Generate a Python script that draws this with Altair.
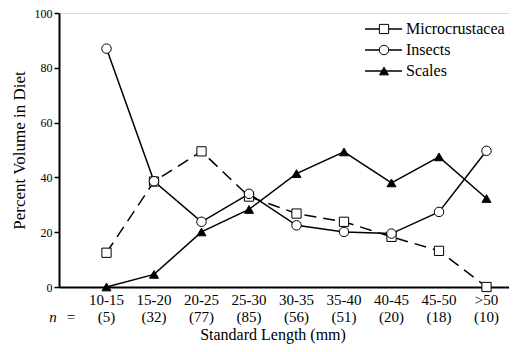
import altair as alt
import pandas as pd

categories = ["10-15", "15-20", "20-25", "25-30", "30-35", "35-40", "40-45", "45-50", ">50"]
n_labels = ["(5)", "(32)", "(77)", "(85)", "(56)", "(51)", "(20)", "(18)", "(10)"]
micro = [12.5, 38.5, 49.5, 33.0, 26.8, 23.8, 18.3, 13.2, 0.0]
insects = [87.0, 38.6, 23.8, 34.0, 22.5, 20.1, 19.5, 27.4, 49.7]
scales = [0.0, 4.6, 20.1, 28.3, 41.4, 49.3, 38.0, 47.5, 32.3]
series_names = ["Microcrustacea", "Insects", "Scales"]

FONT = "'Liberation Serif', 'Times New Roman', 'DejaVu Serif', serif"
W, H = 450, 274

pos = list(range(1, len(categories) + 1))
df_m = pd.DataFrame({"pos": pos, "v": micro})
df_i = pd.DataFrame({"pos": pos, "v": insects})
df_s = pd.DataFrame({"pos": pos, "v": scales})
df_cat = pd.DataFrame({"pos": pos, "cat": categories, "n": n_labels})

xs = alt.Scale(domain=[0, W / 47.5], nice=False, zero=False)
ys = alt.Scale(domain=[0, 100], nice=False)

x_enc = alt.X("pos:Q", scale=xs,
              axis=alt.Axis(labels=False, ticks=False, title=None, grid=False,
                            domainWidth=2, domainColor="black"))
y_enc = alt.Y("v:Q", scale=ys,
              axis=alt.Axis(values=[0, 20, 40, 60, 80, 100], tickSize=5, tickWidth=1.5,
                            tickColor="black", domainWidth=2, domainColor="black",
                            labelFont=FONT, labelFontSize=12, labelColor="black",
                            labelPadding=2, grid=False,
                            title="Percent Volume in Diet", titleFont=FONT,
                            titleFontSize=17, titleFontWeight="normal",
                            titleColor="black", titlePadding=6))

def line(df, dash=None):
    kw = dict(color="black", strokeWidth=1.5)
    if dash:
        kw["strokeDash"] = dash
    return alt.Chart(df).mark_line(**kw).encode(x=x_enc, y=y_enc)

def pts(df, shape, fill, size):
    return alt.Chart(df).mark_point(shape=shape, filled=True, fill=fill, stroke="black",
                                    strokeWidth=1, size=size, opacity=1).encode(
        x=alt.X("pos:Q", scale=xs), y=alt.Y("v:Q", scale=ys))

cat_text = alt.Chart(df_cat).mark_text(font=FONT, fontSize=15, baseline="middle",
                                       color="black").encode(
    x=alt.X("pos:Q", scale=xs), y=alt.value(287), text="cat:N")
n_text = alt.Chart(df_cat).mark_text(font=FONT, fontSize=15, baseline="middle",
                                     color="black").encode(
    x=alt.X("pos:Q", scale=xs), y=alt.value(304), text="n:N")
n_sym = alt.Chart(pd.DataFrame({"t": ["n"]})).mark_text(
    font=FONT, fontSize=15, fontStyle="italic", baseline="middle", color="black").encode(
    x=alt.value(-6), y=alt.value(304), text="t:N")
eq_sym = alt.Chart(pd.DataFrame({"t": ["="]})).mark_text(
    font=FONT, fontSize=15, baseline="middle", color="black").encode(
    x=alt.value(12), y=alt.value(304), text="t:N")
x_title = alt.Chart(pd.DataFrame({"t": ["Standard Length (mm)"]})).mark_text(
    font=FONT, fontSize=16, baseline="middle", color="black").encode(
    x=alt.value(214), y=alt.value(322), text="t:N")

# legend
leg_y = [16, 37, 58]
leg_shapes = [("square", "white", 85), ("circle", "white", 90), ("triangle-up", "black", 80)]
legend_layers = []
for name, ly, (shp, fl, sz) in zip(series_names, leg_y, leg_shapes):
    d = pd.DataFrame({"t": [name]})
    legend_layers.append(alt.Chart(d).mark_rule(color="black", strokeWidth=1.5).encode(
        x=alt.value(306), x2=alt.value(343), y=alt.value(ly)))
    legend_layers.append(alt.Chart(d).mark_point(shape=shp, filled=True, fill=fl,
                                                 stroke="black", strokeWidth=1, size=sz,
                                                 opacity=1).encode(
        x=alt.value(325), y=alt.value(ly)))
    legend_layers.append(alt.Chart(d).mark_text(font=FONT, fontSize=16, align="left",
                                                baseline="middle", color="black").encode(
        x=alt.value(347), y=alt.value(ly), text="t:N"))

chart = alt.layer(
    line(df_m, [12, 7]), line(df_i), line(df_s),
    pts(df_m, "square", "white", 85), pts(df_i, "circle", "white", 90),
    pts(df_s, "triangle-up", "black", 80),
    cat_text, n_text, n_sym, eq_sym, x_title, *legend_layers
).properties(
    width=W, height=H,
    autosize=alt.AutoSizeParams(type="none"),
    padding={"left": 51, "top": 5, "right": 0, "bottom": 57},
).configure_view(stroke=None).configure(background="white")

chart.save("out.html", embed_options={"renderer": "svg", "actions": False})
